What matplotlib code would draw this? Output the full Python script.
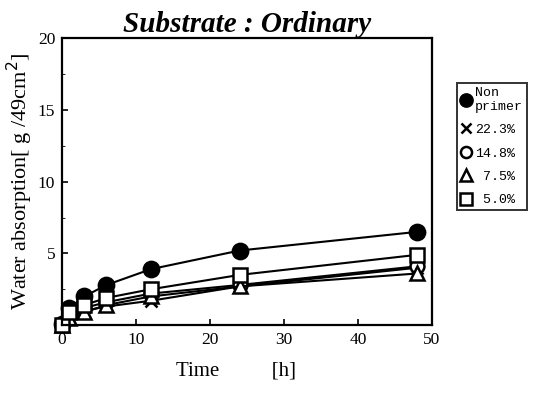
import matplotlib
matplotlib.use("Agg")
import matplotlib.pyplot as plt
from matplotlib.ticker import MultipleLocator

# Data
time_h = [0, 1, 3, 6, 12, 24, 48]
non_primer = [0.1, 1.2, 2.0, 2.8, 3.9, 5.2, 6.5]
p22_3 = [0.0, 0.6, 1.0, 1.3, 1.7, 2.7, 4.0]
p14_8 = [0.0, 0.8, 1.2, 1.6, 2.2, 2.8, 4.1]
p7_5 = [0.0, 0.5, 0.9, 1.4, 2.0, 2.7, 3.6]
p5_0 = [0.0, 0.9, 1.4, 1.9, 2.5, 3.5, 4.9]

labels = ["Non\nprimer", "22.3%", "14.8%", " 7.5%", " 5.0%"]
series = [non_primer, p22_3, p14_8, p7_5, p5_0]
markers = ["o", "x", "o", "^", "s"]
fills = ["black", "none", "white", "white", "white"]
sizes = [11, 9, 10, 10, 10]

fig = plt.figure(figsize=(5.4, 3.97), dpi=100)
ax = fig.add_axes([0.115, 0.181, 0.685, 0.723])

for ys, m, fc, ms, lab in zip(series, markers, fills, sizes, labels):
    ax.plot(time_h, ys, color="black", linewidth=1.5, marker=m, markersize=ms,
            markerfacecolor=fc, markeredgecolor="black", markeredgewidth=1.8,
            label=lab, clip_on=False)

ax.set_xlim(0, 50)
ax.set_ylim(0, 20)
ax.set_xticks([0, 10, 20, 30, 40, 50])
ax.set_yticks([5, 10, 15, 20])
ax.yaxis.set_minor_locator(MultipleLocator(2.5))
ax.tick_params(direction="in", length=4, width=1.2, labelsize=12.5, pad=5)
ax.tick_params(which="minor", direction="in", length=2)
for s in ax.spines.values():
    s.set_linewidth(1.6)
for t in ax.get_xticklabels() + ax.get_yticklabels():
    t.set_family("Liberation Serif")

ax.set_title("Substrate : Ordinary", family="Liberation Serif", style="italic",
             fontweight="bold", fontsize=21, pad=3)
ax.set_xlabel("Time          [h]", family="Liberation Serif", fontsize=15)
ax.xaxis.set_label_coords(0.47, -0.125)
ax.set_ylabel("Water absorption[ g /49cm$^2$]", family="Liberation Serif",
              fontsize=16, labelpad=2)

leg = ax.legend(loc="upper left", bbox_to_anchor=(1.068, 0.844), borderaxespad=0,
                frameon=True, fancybox=False, edgecolor="black", handlelength=0.7,
                handletextpad=0.35, borderpad=0.3, labelspacing=0.85,
                prop={"family": "Liberation Mono", "size": 9.5},
                markerscale=0.8)
leg.get_frame().set_linewidth(1.4)
for h in leg.legend_handles:
    h.set_linestyle("none")

fig.savefig("out.png", dpi=100)
